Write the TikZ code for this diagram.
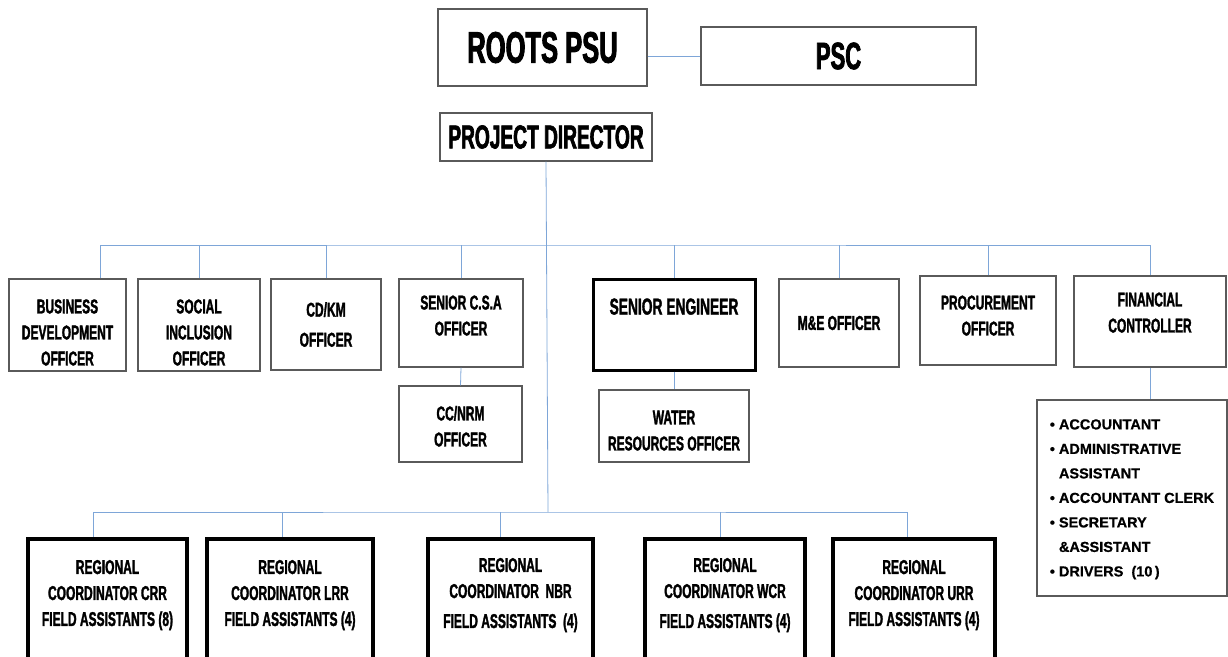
\documentclass[tikz,border=0pt]{standalone}
\usepackage{fontspec}
\newfontfamily\condfont{Liberation Sans}[FakeStretch=0.6, BoldFeatures={FakeBold=1.5}]
\newfontfamily\titlefont{Liberation Sans}[FakeStretch=0.58, BoldFeatures={FakeBold=2}]
\newfontfamily\listfont{Liberation Sans}[BoldFeatures={FakeBold=0.7}]
\definecolor{linkblue}{HTML}{7EA6D8}
\definecolor{boxgray}{HTML}{5A5A5A}

\tikzset{
  box/.style={draw=boxgray, line width=1.3pt, fill=white, align=center, inner sep=2pt,
    font=\condfont\bfseries\fontsize{20}{26}\selectfont},
  thickbox/.style={box, draw=black, line width=3pt},
  regbox/.style={box, draw=black, line width=4.5pt, minimum height=121pt, text depth=13pt},
  link/.style={draw=linkblue, line width=0.8pt},
}

\begin{document}
\begin{tikzpicture}[x=1pt, y=-1pt]
    \useasboundingbox (0,0) rectangle (1228,656);
    \clip (0,0) rectangle (1228,656);

    % Top of the structure
    \node[box, minimum width=209pt, minimum height=77pt, font=\titlefont\bfseries\fontsize{44}{44}\selectfont] (psu) at (542.5,47.5) {ROOTS PSU};
    \node[box, minimum width=275pt, minimum height=58pt, font=\titlefont\bfseries\fontsize{38}{38}\selectfont] (psc) at (838.5,56) {PSC};
    \node[box, minimum width=212pt, minimum height=48pt, font=\titlefont\bfseries\fontsize{33}{33}\selectfont] (pd) at (546,137) {PROJECT DIRECTOR};

    % Officers under the director
    \node[box, minimum width=117pt, minimum height=92pt, text height=81pt] (bdo) at (67.5,325) {BUSINESS\\DEVELOPMENT\\OFFICER};
    \node[box, minimum width=122pt, minimum height=92pt, text height=81pt] (sio) at (199,325) {SOCIAL\\INCLUSION\\OFFICER};
    \node[box, minimum width=110pt, minimum height=91pt] (cdkm) at (326,324.5) {CD/KM\\[4pt]OFFICER};
    \node[box, minimum width=124pt, minimum height=88pt, text depth=15pt] (csa) at (461,323) {SENIOR C.S.A\\OFFICER};
    \node[box, minimum width=123pt, minimum height=76pt, text height=45pt] (ccnrm) at (460.5,424) {CC/NRM\\OFFICER};
    \node[thickbox, minimum width=162pt, minimum height=91pt, text depth=36pt, font=\condfont\bfseries\fontsize{23}{26}\selectfont] (seng) at (674,324.5) {SENIOR ENGINEER};
    \node[box, minimum width=150pt, minimum height=72pt, text height=49pt] (wro) at (674,426) {WATER\\RESOURCES OFFICER};
    \node[box, minimum width=120pt, minimum height=88pt] (meo) at (839,323) {M\&E OFFICER};
    \node[box, minimum width=136pt, minimum height=89pt, text depth=10pt] (proc) at (988,320.5) {PROCUREMENT\\OFFICER};
    \node[box, minimum width=152pt, minimum height=91pt, text depth=18pt] (fc) at (1150,321.5) {FINANCIAL\\CONTROLLER};

    % Finance staff list
    \node[box, minimum width=190pt, minimum height=196pt, align=left,
          font=\listfont\bfseries\fontsize{14.5}{24.5}\selectfont] (staff) at (1132,498)
        {\begin{tabular}{@{}l@{\hspace{4pt}}l@{}}
          \textbullet & ACCOUNTANT\\
          \textbullet & ADMINISTRATIVE\\
                      & ASSISTANT\\
          \textbullet & ACCOUNTANT CLERK\\
          \textbullet & SECRETARY\\
                      & \&ASSISTANT\\
          \textbullet & DRIVERS~~(10\,)
        \end{tabular}};

    % Regional coordinators
    \node[regbox, minimum width=159pt] (crr) at (107.5,599.5) {REGIONAL\\COORDINATOR CRR\\FIELD ASSISTANTS (8)};
    \node[regbox, minimum width=166pt] (lrr) at (290,599.5) {REGIONAL\\COORDINATOR LRR\\FIELD ASSISTANTS (4)};
    \node[regbox, minimum width=165pt] (nbr) at (510.5,599.5) {REGIONAL\\COORDINATOR~~NBR\\[4pt]FIELD ASSISTANTS~~(4)};
    \node[regbox, minimum width=160pt] (wcr) at (725,599.5) {REGIONAL\\COORDINATOR WCR\\[4pt]FIELD ASSISTANTS (4)};
    \node[regbox, minimum width=162pt] (urr) at (914,599.5) {REGIONAL\\COORDINATOR URR\\FIELD ASSISTANTS (4)};

    % Connectors
    \coordinate (topbus) at (548,245);
    \coordinate (lowbus) at (548,512);
    \draw[link] (psu.east |- psc.west) -- (psc.west);
    \draw[link] (pd.south) -- (lowbus);
    \draw[link] ([xshift=33pt]bdo.north) |- (topbus) -| (fc.north);
    \foreach \n in {sio,cdkm,csa,seng,meo,proc}
        \draw[link] (\n.north) -- (\n.north |- topbus);
    \draw[link] (csa.south) -- (ccnrm.north);
    \draw[link] (seng.south) -- (wro.north);
    \draw[link] (fc.south) -- (fc.south |- staff.north);
    \draw[link] ([xshift=-14pt]crr.north) |- (lowbus) -| ([xshift=-7pt]urr.north);
    \foreach \n/\dx in {lrr/-8,nbr/-10,wcr/-5}
        \draw[link] ([xshift=\dx pt]\n.north) -- ([xshift=\dx pt]\n.north |- lowbus);
\end{tikzpicture}
\end{document}
